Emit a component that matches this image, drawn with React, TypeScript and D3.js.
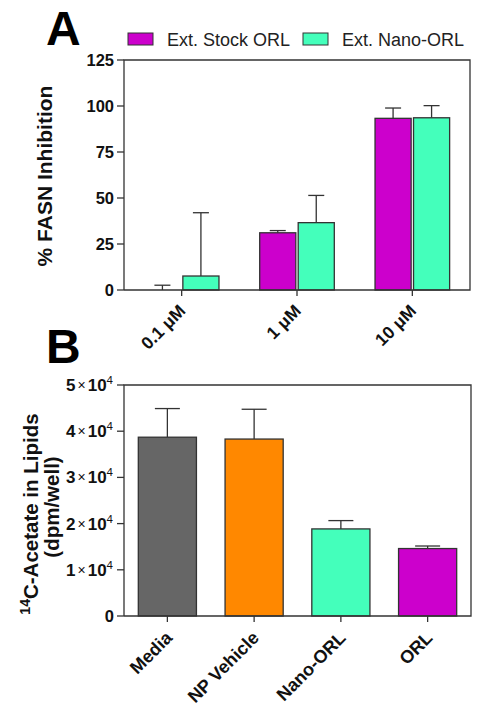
import React from "react";
import * as d3 from "d3";

const doseCategories = ["0.1 μM", "1 μM", "10 μM"];
const seriesNames = ["Ext. Stock ORL", "Ext. Nano-ORL"];
const stockValues = [0, 31.1, 93.3];
const stockErrors = [2.6, 32.3, 98.9];
const nanoValues = [7.6, 36.6, 93.6];
const nanoErrors = [42, 51.4, 100.2];
const aTicks = [0, 25, 50, 75, 100, 125];

const bCategories = ["Media", "NP Vehicle", "Nano-ORL", "ORL"];
const bValues = [38700, 38300, 18850, 14600];
const bErrors = [44900, 44750, 20650, 15150];
const bTicks = [0, 10000, 20000, 30000, 40000, 50000];

const MAGENTA = "#CC00CC";
const GREEN = "#44FFBB";
const bColors = ["#666666", "#FF8800", GREEN, MAGENTA];
const AXIS = "#333333";
const FONT = "'Liberation Sans', Arial, sans-serif";

export default function App() {
  // Panel A
  const aL = 124, aR = 470, aT = 60, aB = 290;
  const ax = d3.scaleBand().domain(doseCategories).range([aL, aR]).padding(0);
  const ay = d3.scaleLinear().domain([0, 125]).range([aB, aT]);
  const sub = d3.scaleBand().domain(seriesNames).range([0, 74.6]).paddingInner(0.062);
  const seriesVals = [stockValues, nanoValues];
  const seriesErr = [stockErrors, nanoErrors];
  const seriesCol = [MAGENTA, GREEN];

  // Panel B
  const bL = 124, bR = 471, bT = 385, bB = 616;
  const bx = d3.scaleBand().domain(bCategories).range([bL, bR]).paddingInner(0.33).paddingOuter(0.165);
  const by = d3.scaleLinear().domain([0, 50000]).range([bB, bT]);

  return (
    <svg width={481} height={711} style={{ position: "absolute", left: 0, top: 0, background: "#fff" }} fontFamily={FONT}>
      <rect x={0} y={0} width={481} height={711} fill="#fff" />
      {/* Panel A */}
      <text x={46} y={45} fontSize={48} fontWeight="bold" fill="#000">A</text>
      {seriesNames.map((n, i) => {
        const lx = i === 0 ? 128 : 303;
        return (
          <g key={n}>
            <rect x={lx} y={33} width={25} height={12} fill={seriesCol[i]} stroke={AXIS} strokeWidth={1} />
            <text x={lx + 39} y={46} fontSize={18} fill="#222">{n}</text>
          </g>
        );
      })}
      {doseCategories.map((c, ci) => {
        const gx = ax(c)! + ax.bandwidth() / 2 - 37.3;
        return (
          <g key={c}>
            {seriesNames.map((s, si) => {
              const x = gx + sub(s)!;
              const w = sub.bandwidth();
              const cx = x + w / 2;
              const v = seriesVals[si][ci];
              const e = seriesErr[si][ci];
              return (
                <g key={s}>
                  <line x1={cx} x2={cx} y1={ay(v)} y2={ay(e)} stroke={AXIS} strokeWidth={1.3} />
                  <line x1={cx - 8} x2={cx + 8} y1={ay(e)} y2={ay(e)} stroke={AXIS} strokeWidth={1.3} />
                  {v > 0 && (
                    <rect x={x} y={ay(v)} width={w} height={aB - ay(v)} fill={seriesCol[si]} stroke={AXIS} strokeWidth={1.3} />
                  )}
                </g>
              );
            })}
          </g>
        );
      })}
      <path d={`M${aL},${aB}V${aT}H${aR}V${aB}H${aL}`} fill="none" stroke={AXIS} strokeWidth={1.3} />
      {aTicks.map((t) => (
        <g key={t}>
          <line x1={aL - 7} x2={aL} y1={ay(t)} y2={ay(t)} stroke={AXIS} strokeWidth={1.3} />
          <text x={aL - 10} y={ay(t) + 6} textAnchor="end" fontSize={16.5} fontWeight="bold" fill="#111">{t}</text>
        </g>
      ))}
      {doseCategories.map((c) => {
        const cx = ax(c)! + ax.bandwidth() / 2;
        return (
          <g key={c}>
            <line x1={cx} x2={cx} y1={aB} y2={aB + 6} stroke={AXIS} strokeWidth={1.3} />
            <text transform={`translate(${cx + 5},${aB + 22}) rotate(-45)`} textAnchor="end" fontSize={17.5} fontWeight="bold" fill="#111">{c}</text>
          </g>
        );
      })}
      <text transform={`translate(52,176) rotate(-90)`} textAnchor="middle" fontSize={21} fontWeight="bold" fill="#111">% FASN Inhibition</text>

      {/* Panel B */}
      <text x={46} y={363} fontSize={48} fontWeight="bold" fill="#000">B</text>
      {bCategories.map((c, i) => {
        const x = bx(c)!;
        const w = bx.bandwidth();
        const cx = x + w / 2;
        return (
          <g key={c}>
            <line x1={cx} x2={cx} y1={by(bValues[i])} y2={by(bErrors[i])} stroke={AXIS} strokeWidth={1.3} />
            <line x1={cx - 12.5} x2={cx + 12.5} y1={by(bErrors[i])} y2={by(bErrors[i])} stroke={AXIS} strokeWidth={1.3} />
            <rect x={x} y={by(bValues[i])} width={w} height={bB - by(bValues[i])} fill={bColors[i]} stroke={AXIS} strokeWidth={1.3} />
          </g>
        );
      })}
      <path d={`M${bL},${bB}V${bT}H${bR}V${bB}H${bL}`} fill="none" stroke={AXIS} strokeWidth={1.3} />
      {bTicks.map((t) => (
        <g key={t}>
          <line x1={bL - 7} x2={bL} y1={by(t)} y2={by(t)} stroke={AXIS} strokeWidth={1.3} />
          {t === 0 ? (
            <text x={bL - 10} y={by(t) + 6} textAnchor="end" fontSize={16.5} fontWeight="bold" fill="#111">0</text>
          ) : (
            <text x={bL - 11} y={by(t) + 6} textAnchor="end" fontSize={17} fill="#111">
              <tspan fontWeight="bold">{t / 10000}</tspan>
              <tspan fontSize={14} dx={2} dy={-1}>×</tspan>
              <tspan fontWeight="bold" dx={2} dy={1}>10</tspan>
              <tspan fontSize={11.5} dy={-7}>4</tspan>
            </text>
          )}
        </g>
      ))}
      {bCategories.map((c) => {
        const cx = bx(c)! + bx.bandwidth() / 2;
        return (
          <g key={c}>
            <line x1={cx} x2={cx} y1={bB} y2={bB + 6} stroke={AXIS} strokeWidth={1.3} />
            <text transform={`translate(${cx + 6},${bB + 23}) rotate(-45)`} textAnchor="end" fontSize={18} fontWeight="bold" fill="#111">{c}</text>
          </g>
        );
      })}
      <text transform={`translate(38,514) rotate(-90)`} textAnchor="middle" fontSize={20.5} fontWeight="bold" fill="#111">
        <tspan fontSize={14} dy={-8}>14</tspan>
        <tspan dy={8}>C-Acetate in Lipids</tspan>
      </text>
      <text transform={`translate(59,507) rotate(-90)`} textAnchor="middle" fontSize={20.5} fontWeight="bold" fill="#111">(dpm/well)</text>
    </svg>
  );
}
